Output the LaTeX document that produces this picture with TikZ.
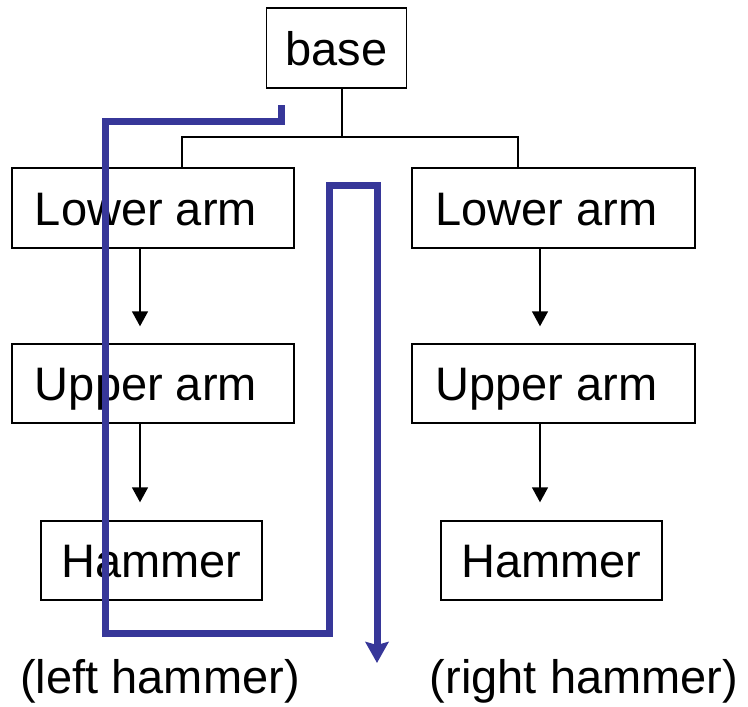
\documentclass[tikz,border=0pt]{standalone}
\usepackage{fontspec}
\setmainfont{Liberation Sans}
\usetikzlibrary{arrows.meta}
\definecolor{trav}{RGB}{55,55,153}
\tikzset{
  box/.style={draw=black, line width=1.4pt, fill=none, inner sep=0pt,
    font=\fontsize{47}{50}\selectfont, text height=34pt, text depth=0pt, anchor=center},
  armbox/.style={box, execute at end node={\hspace*{14pt}}},
  conn/.style={black, line width=1.4pt},
  arr/.style={black, line width=1.4pt, -{Triangle[length=15pt,width=16pt]}},
  travarr/.style={trav, line width=7pt, line join=miter, -{Stealth[length=21pt,width=23pt,inset=3pt]}},
  lbl/.style={font=\fontsize{47}{50}\selectfont, anchor=base}
}
\begin{document}
\begin{tikzpicture}[x=1pt,y=-1pt]
\useasboundingbox (0,0) rectangle (748,707);
% nodes
\node[box, minimum width=140pt, minimum height=80pt] (base) at (336.5,48) {base};
\node[armbox, minimum width=282pt, minimum height=80pt] (lal) at (153,208) {Lower arm};
\node[armbox, minimum width=283pt, minimum height=80pt] (lar) at (553.5,208) {Lower arm};
\node[armbox, minimum width=282pt, minimum height=79pt] (ual) at (153,383.5) {Upper arm};
\node[armbox, minimum width=283pt, minimum height=79pt] (uar) at (553.5,383.5) {Upper arm};
\node[box, minimum width=221pt, minimum height=79pt] (hl) at (151.5,560.5) {Hammer};
\node[box, minimum width=221pt, minimum height=79pt] (hr) at (551.5,560.5) {Hammer};
% tree connectors
\coordinate (j) at (342,137);
\coordinate (jl) at (182,137);
\coordinate (jr) at (518,137);
\draw[conn] (base.south -| j) -- (j);
\draw[conn] (lal.north -| jl) -- (jl) -- (jr) -- (lar.north -| jr);
% arrows
\coordinate (al) at (140,0);
\coordinate (ar) at (540,0);
\draw[arr, shorten >=17pt] (lal.south -| al) -- (ual.north -| al);
\draw[arr, shorten >=18pt] (ual.south -| al) -- (hl.north -| al);
\draw[arr, shorten >=17pt] (lar.south -| ar) -- (uar.north -| ar);
\draw[arr, shorten >=18pt] (uar.south -| ar) -- (hr.north -| ar);
% traversal path
\coordinate (t0) at (281,105);
\coordinate (t1) at (281,121);
\coordinate (t2) at (105,121);
\coordinate (t3) at (105,633);
\coordinate (t4) at (329,633);
\coordinate (t5) at (329,185);
\coordinate (t6) at (377,185);
\coordinate (t7) at (377,663);
\draw[travarr] (t0) -- (t1) -- (t2) -- (t3) -- (t4) -- (t5) -- (t6) -- (t7);
% labels
\node[lbl] (ll) at (160,693) {(left hammer)};
\node[lbl] (rl) at (584,693) {(right hammer)};
\end{tikzpicture}
\end{document}
